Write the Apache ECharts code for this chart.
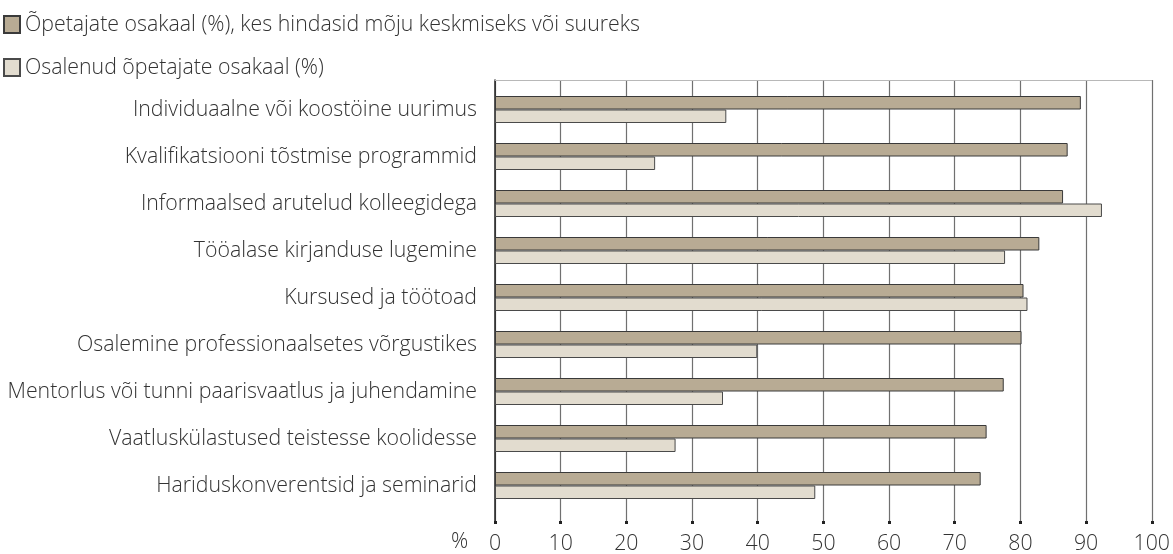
<!DOCTYPE html>
<html>
<head>
<meta charset="utf-8">
<script src="https://cdn.jsdelivr.net/npm/echarts@6/dist/echarts.min.js"></script>
<style>
  html, body { margin: 0; padding: 0; background: #fff; }
  #chart { width: 1173px; height: 554px; }
</style>
</head>
<body>
<div id="chart"></div>
<script>
// kategooriad ülevalt alla
const categories = [
  'Individuaalne või koostöine uurimus',
  'Kvalifikatsiooni tõstmise programmid',
  'Informaalsed arutelud kolleegidega',
  'Tööalase kirjanduse lugemine',
  'Kursused ja töötoad',
  'Osalemine professionaalsetes võrgustikes',
  'Mentorlus või tunni paarisvaatlus ja juhendamine',
  'Vaatluskülastused teistesse koolidesse',
  'Hariduskonverentsid ja seminarid'
]
const impactName = 'Õpetajate osakaal (%), kes hindasid mõju keskmiseks või suureks'
const partName = 'Osalenud õpetajate osakaal (%)'
const impactValues = [88.9, 86.9, 86.2, 82.6, 80.2, 79.9, 77.2, 74.6, 73.7]
const partValues = [35.1, 24.3, 92.1, 77.4, 80.8, 39.8, 34.6, 27.4, 48.6]
const xTicks = [0, 100, 10] // min, max, samm

const font = 'Open Sans'
const textColor = '#333'
const fs = 21.3

const chart = echarts.init(document.getElementById('chart'))

const option = {
  animation: false,
  legend: {
    orient: 'vertical',
    left: 3,
    top: 14,
    padding: 0,
    itemWidth: 16,
    itemHeight: 17,
    itemGap: 22,
    icon: 'rect',
    selectedMode: false,
    textStyle: { fontFamily: font, fontSize: fs, fontWeight: 300, color: textColor },
    data: [impactName, partName]
  },
  grid: [
    // tulbad
    { left: 495, right: 19, top: 86, bottom: 45 },
    // raam ja ruudustik
    { left: 495, right: 19, top: 80, bottom: 32 }
  ],
  xAxis: [
    {
      gridIndex: 0,
      type: 'value',
      min: xTicks[0], max: xTicks[1], interval: xTicks[2],
      show: false
    },
    {
      gridIndex: 1,
      type: 'value',
      position: 'bottom',
      min: xTicks[0], max: xTicks[1], interval: xTicks[2],
      axisLine: { show: false },
      axisTick: { show: true, length: 3, lineStyle: { color: '#222', width: 3 } },
      axisLabel: { fontFamily: font, fontSize: fs, fontWeight: 300, color: textColor, margin: 12 },
      splitLine: { show: true, lineStyle: { color: '#707070', width: 1.2 } }
    },
    {
      gridIndex: 1,
      type: 'value',
      position: 'top',
      min: xTicks[0], max: xTicks[1],
      axisLine: { show: true, lineStyle: { color: '#b8b8b8', width: 1 } },
      axisTick: { show: false },
      axisLabel: { show: false },
      splitLine: { show: false }
    }
  ],
  yAxis: [
    {
      gridIndex: 0,
      type: 'category',
      inverse: true,
      data: categories,
      axisLine: { show: false },
      axisTick: { show: false },
      axisLabel: { fontFamily: font, fontSize: fs, fontWeight: 300, color: textColor, margin: 18 }
    },
    {
      gridIndex: 1,
      type: 'value',
      min: 0, max: 1,
      axisLine: { show: true, lineStyle: { color: '#222', width: 1.5 } },
      axisTick: { show: false },
      axisLabel: { show: false },
      splitLine: { show: false }
    }
  ],
  graphic: [
    {
      type: 'text',
      left: 451,
      top: 531,
      style: { text: '%', fontFamily: font, fontSize: fs, fontWeight: 300, fill: textColor }
    }
  ],
  series: [
    {
      name: impactName,
      type: 'bar',
      xAxisIndex: 0,
      yAxisIndex: 0,
      data: impactValues,
      barWidth: 13.5,
      barGap: '0%',
      itemStyle: { color: '#b8ab94', borderColor: '#3a3a3a', borderWidth: 1 }
    },
    {
      name: partName,
      type: 'bar',
      xAxisIndex: 0,
      yAxisIndex: 0,
      data: partValues,
      barWidth: 13.5,
      barGap: '0%',
      itemStyle: { color: '#e2dccf', borderColor: '#4a4a4a', borderWidth: 1 }
    }
  ]
}

chart.setOption(option)
</script>
</body>
</html>
